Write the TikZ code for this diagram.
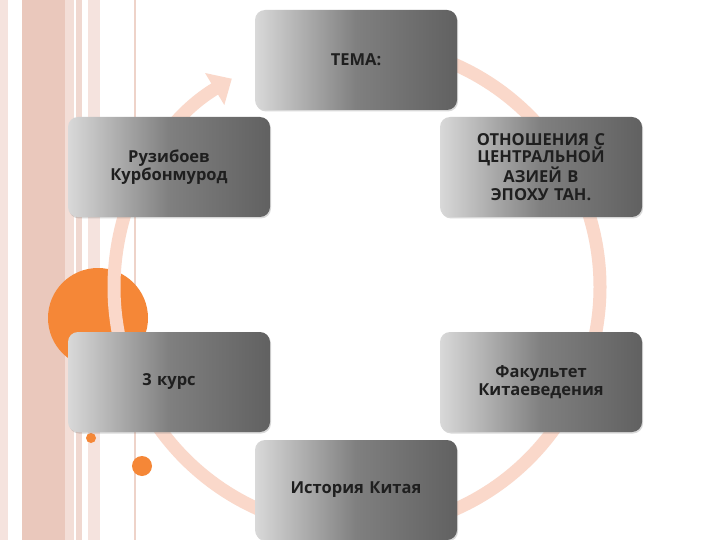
\documentclass[tikz,border=0pt]{standalone}
\usepackage{fontspec}
\setmainfont{Open Sans}
\usetikzlibrary{arrows.meta,shadows}
\definecolor{ring}{RGB}{250,216,202}
\definecolor{stripe}{RGB}{234,200,188}
\definecolor{orng}{RGB}{245,135,55}
\begin{document}
\begin{tikzpicture}[x=1pt,y=-1pt,
  box/.style={rounded corners=10pt, minimum width=202pt, minimum height=100pt,
    left color=gray!30, right color=black!62, middle color=black!50,
    drop shadow={shadow xshift=1pt,shadow yshift=-1.5pt,opacity=0.3},
    text width=160pt, align=center, font=\bfseries\fontsize{16.5}{17.5}\selectfont, text=black!88}]
\useasboundingbox (0,0) rectangle (720,540);
\fill[white] (0,0) rectangle (720,540);
% left decoration
\fill[stripe!50] (0,0) rectangle (8,540);
\fill[stripe] (22,0) rectangle (65,540);
\fill[stripe!60] (65,0) rectangle (74,540);
\fill[stripe!70] (76,0) rectangle (82,540);
\fill[stripe!50] (88,0) rectangle (100,540);
\fill[stripe!80] (134,0) rectangle (136,540);
\fill[orng] (98,318) circle (50);
\fill[orng] (91,438) circle (5);
\fill[orng] (142,466) circle (10);
% ring
\draw[ring, line width=13pt, -{Triangle[width=36pt,length=20pt]}]
  (357,287) ++(-90:243) arc[start angle=-90, end angle=239, radius=243];
% boxes
\node[box] (t) at (356,60) {ТЕМА:};
\node[box] (r1) at (541,167) {ОТНОШЕНИЯ С ЦЕНТРАЛЬНОЙ АЗИЕЙ В ЭПОХУ ТАН.};
\node[box] (r2) at (541,382) {Факультет Китаеведения};
\node[box] (b) at (356,490) {История Китая};
\node[box] (l2) at (169,382) {3 курс};
\node[box] (l1) at (169,167) {Рузибоев Курбонмурод};
\end{tikzpicture}
\end{document}
